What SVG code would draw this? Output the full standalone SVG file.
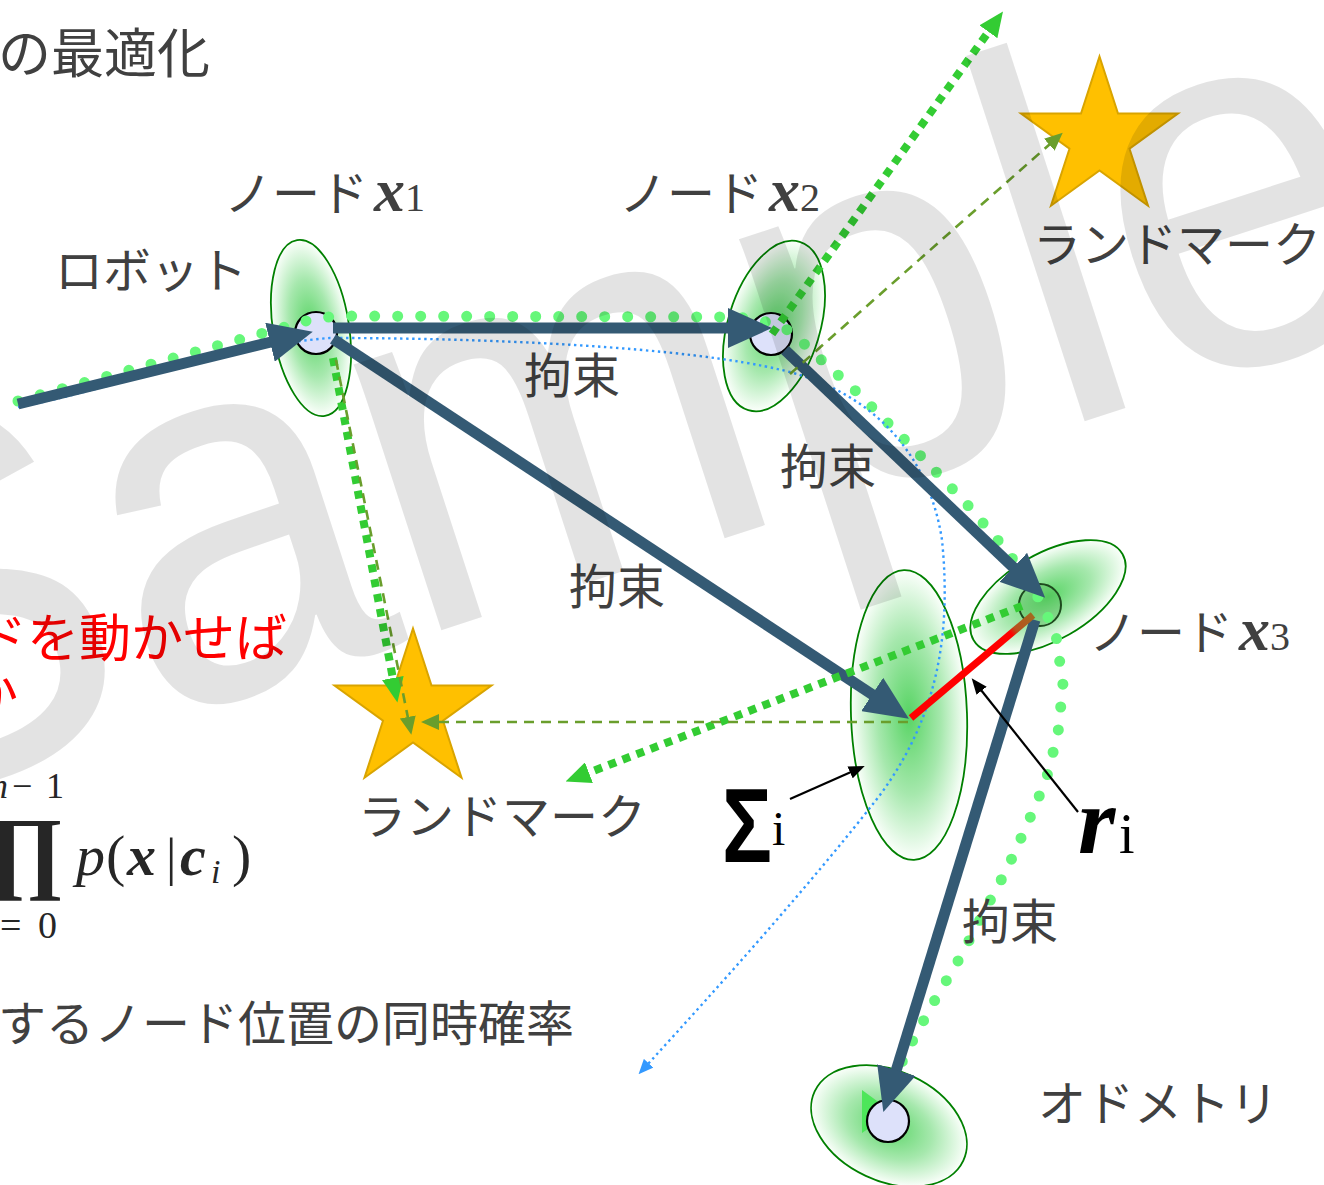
<svg xmlns="http://www.w3.org/2000/svg" width="1324" height="1185" viewBox="0 0 1324 1185">
<style>
.jp{font-family:"Noto Sans CJK JP","Noto Sans",sans-serif;fill:#404040;font-size:48px}
.red{font-family:"Noto Sans CJK JP","Noto Sans",sans-serif;fill:#ff0000;font-size:52px}
.ser{font-family:"Liberation Serif","DejaVu Serif",serif;fill:#404040}
.bi{font-weight:bold;font-style:italic}
.ell{fill:url(#gEll);stroke:#008000;stroke-width:1.8}
.nc{fill:#dde1fa;stroke:#000;stroke-width:2.2}
.thick{stroke:#345a74;stroke-width:11;fill:none;marker-end:url(#mThick)}
.sq{stroke:#33cc33;stroke-width:8;fill:none;stroke-dasharray:8 7;marker-end:url(#mGreen)}
.olive{stroke:#6a9e2c;stroke-width:2.6;fill:none;stroke-dasharray:10 7;marker-end:url(#mOlive)}
.thin{stroke:#000;stroke-width:2.2;fill:none;marker-end:url(#mBlack)}
.star{fill:#ffc000;stroke:#d9a400;stroke-width:2}
.math{font-family:"Liberation Serif","DejaVu Serif",serif;fill:#262626}
</style>
<defs>
<radialGradient id="gEll">
<stop offset="0" stop-color="#58d464"/>
<stop offset="0.55" stop-color="#a6e8ad"/>
<stop offset="1" stop-color="#fbfffb"/>
</radialGradient>
<linearGradient id="gRed" gradientUnits="userSpaceOnUse" x1="911" y1="718" x2="1033" y2="615">
<stop offset="0" stop-color="#ff0000"/>
<stop offset="0.82" stop-color="#ff0000"/>
<stop offset="0.86" stop-color="#b8501c"/>
<stop offset="1" stop-color="#a36a20"/>
</linearGradient>
<marker id="mThick" markerUnits="userSpaceOnUse" markerWidth="44" markerHeight="40" viewBox="0 0 44 40" refX="1" refY="20" orient="auto">
<path d="M0,0 L44,20 L0,40 Z" fill="#345a74"/>
</marker>
<marker id="mGreen" markerUnits="userSpaceOnUse" markerWidth="25" markerHeight="22" viewBox="0 0 25 22" refX="1" refY="11" orient="auto">
<path d="M0,0 L25,11 L0,22 Z" fill="#33cc33"/>
</marker>
<marker id="mOlive" markerUnits="userSpaceOnUse" markerWidth="18" markerHeight="16" viewBox="0 0 18 16" refX="1" refY="8" orient="auto">
<path d="M0,0 L18,8 L0,16 Z" fill="#6a9e2c"/>
</marker>
<marker id="mBlack" markerUnits="userSpaceOnUse" markerWidth="16" markerHeight="13" viewBox="0 0 16 13" refX="1" refY="6.5" orient="auto">
<path d="M0,0 L16,6.5 L0,13 Z" fill="#000"/>
</marker>
<marker id="mBlue" markerUnits="userSpaceOnUse" markerWidth="15" markerHeight="13" viewBox="0 0 15 13" refX="1" refY="6.5" orient="auto">
<path d="M0,0 L15,6.5 L0,13 Z" fill="#3399ff"/>
</marker>
<polygon id="star" points="0,-82.5 18.5,-25.5 78.5,-25.5 30,9.7 48.5,66.7 0,31.5 -48.5,66.7 -30,9.7 -78.5,-25.5 -18.5,-25.5"/>
</defs>
<rect width="1324" height="1185" fill="#fff"/>

<g id="node-x1">
<ellipse class="ell" cx="311" cy="328" rx="38" ry="89" transform="rotate(-9 311 328)"/>
<circle class="nc" cx="316" cy="333" r="21"/>
</g>
<g id="node-x2">
<ellipse class="ell" cx="774" cy="326" rx="46" ry="88" transform="rotate(17 774 326)"/>
<circle class="nc" cx="771" cy="334" r="21"/>
</g>
<g id="node-sigma">
<ellipse class="ell" cx="909" cy="715" rx="58" ry="145" transform="rotate(-2 909 715)"/>
</g>
<g id="node-x3">
<ellipse class="ell" cx="1048" cy="597" rx="86" ry="43" transform="rotate(-30 1048 597)"/>
<circle cx="1040" cy="605" r="21" fill="#4caf50" fill-opacity="0.3" stroke="#1e4a1e" stroke-width="2"/>
</g>
<g id="node-odometry">
<ellipse class="ell" cx="889" cy="1126" rx="82" ry="55" transform="rotate(25 889 1126)"/>
<polygon points="862,1090 892,1112 862,1133" fill="#4de65a"/>
<circle class="nc" cx="888" cy="1121" r="21"/>
</g>
<g id="landmark-1">
<use href="#star" class="star" transform="translate(413 711)"/>
</g>
<g id="landmark-2">
<use href="#star" class="star" transform="translate(1099.5 139)"/>
</g>

<g id="connectors">
<path d="M18,401 L296,324 Q312,318 340,316 L735,317 Q790,322 805,345 L860,395 L915,450 L965,502 L1008,552 L1040,600 L1056,635 L1063,685 L1058,733 L1046,780 L1027,825 L1007,869 L984,912 L961,956 L936,998 L913,1040 L893,1080" fill="none" stroke="#66f77a" stroke-width="11" stroke-linecap="round" stroke-dasharray="0 23"/>
<path d="M18,407 C110,390 230,345 330,338 C520,338 720,350 800,375 C880,400 930,460 942,540 C952,640 935,720 880,795 C810,885 720,985 648,1064" fill="none" stroke="#3399ff" stroke-width="2.4" stroke-dasharray="2.4 3.6" marker-end="url(#mBlue)"/>
<line class="thick" x1="18" y1="404" x2="271" y2="342"/>
<line class="thick" x1="333" y1="328" x2="729" y2="328"/>
<line class="thick" x1="333" y1="339" x2="873" y2="695"/>
<line class="thick" x1="785" y1="350" x2="1014" y2="568"/>
<line class="thick" x1="1035" y1="620" x2="896" y2="1071"/>
<line class="sq" x1="333" y1="358" x2="393" y2="679"/>
<line class="sq" x1="772" y1="334" x2="989" y2="31"/>
<line class="sq" x1="1022" y1="606" x2="588" y2="773"/>
<line class="olive" x1="336" y1="360" x2="408" y2="718" stroke-dasharray="5 5"/>
<line class="olive" x1="908" y1="722" x2="438" y2="722"/>
<line class="olive" x1="790" y1="374" x2="1050" y2="144"/>
<line x1="911" y1="718" x2="1033" y2="615" stroke="url(#gRed)" stroke-width="7"/>
<line class="thin" x1="790" y1="799" x2="851" y2="772"/>
<line class="thin" x1="1078" y1="812" x2="981" y2="690"/>
</g>

<g id="labels">
<text class="jp" x="-2" y="73" style="font-size:53px">の最適化</text>
<text class="jp" x="55" y="288">ロボット</text>
<text class="jp" x="224" y="211">ノード<tspan class="ser bi" dx="6" font-size="62">x</tspan><tspan class="ser" font-size="40">1</tspan></text>
<text class="jp" x="619" y="211">ノード<tspan class="ser bi" dx="6" font-size="62">x</tspan><tspan class="ser" font-size="40">2</tspan></text>
<text class="jp" x="1089" y="650">ノード<tspan class="ser bi" dx="6" font-size="62">x</tspan><tspan class="ser" font-size="40">3</tspan></text>
<text class="jp" x="1033" y="262">ランドマーク</text>
<text class="jp" x="358" y="834">ランドマーク</text>
<text class="jp" x="1038" y="1121">オドメトリ</text>
<text class="jp" x="524" y="393">拘束</text>
<text class="jp" x="780" y="484">拘束</text>
<text class="jp" x="569" y="604">拘束</text>
<text class="jp" x="962" y="939">拘束</text>
<text class="red" x="-25" y="657">ドを動かせば</text>
<text class="red" x="-34" y="714">か</text>
<text class="jp" x="-2" y="1041">するノード位置の同時確率</text>
<text x="722" y="862" font-family="Liberation Sans,Arial,sans-serif" font-weight="bold" font-size="106" fill="#000" textLength="50" lengthAdjust="spacingAndGlyphs">Σ</text>
<text class="ser" x="772" y="845" font-size="48" style="fill:#000">i</text>
<text class="ser bi" x="1078" y="853" font-size="96" style="fill:#000">r</text>
<text class="ser" x="1119" y="853" font-size="56" style="fill:#000">i</text>
</g>

<g id="formula">
<text class="math" y="798" font-size="36"><tspan x="-10" font-style="italic">n</tspan><tspan x="12">−</tspan><tspan x="46">1</tspan></text>
<text class="math" x="-12" y="881" font-size="92" font-weight="bold">∏</text>
<text class="math" y="938" font-size="38"><tspan x="-14" font-style="italic">i</tspan><tspan x="0">=</tspan><tspan x="38">0</tspan></text>
<text class="math" y="875" font-size="58"><tspan x="76" font-style="italic">p</tspan><tspan x="106">(</tspan><tspan x="127" font-weight="bold" font-style="italic">x</tspan><tspan x="166" font-size="52">|</tspan><tspan x="180" font-weight="bold" font-style="italic">c</tspan><tspan x="211" dy="8" font-style="italic" font-size="34">i</tspan><tspan x="232" dy="-8">)</tspan></text>
</g>

<g id="watermark">
<text x="0" y="0" transform="translate(-158 825) rotate(-18) scale(0.92 1)" font-family="Liberation Sans,Arial,sans-serif" font-size="530" fill="#000" fill-opacity="0.11">Sample</text>
</g>
</svg>
